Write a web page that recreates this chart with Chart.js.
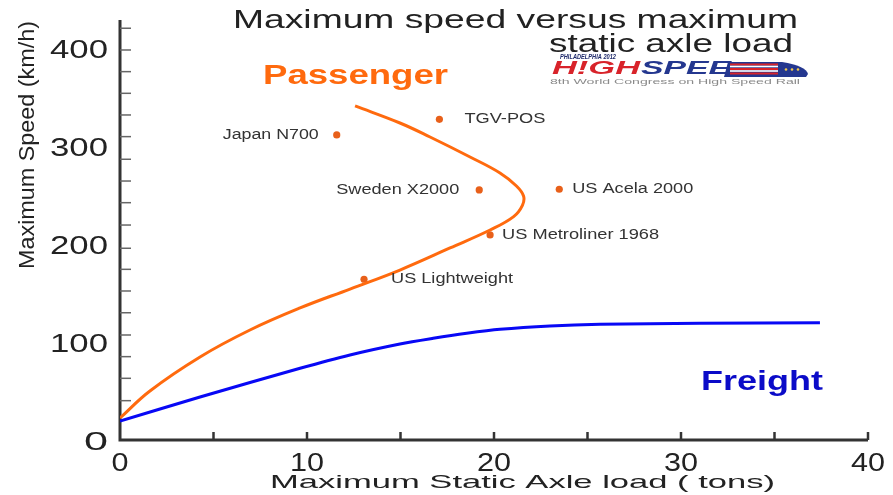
<!DOCTYPE html>
<html>
<head>
<meta charset="utf-8">
<script src="https://cdn.jsdelivr.net/npm/chart.js@4"></script>
<style>
html,body{margin:0;padding:0;background:#fff;}
#wrap{width:893px;height:495px;position:relative;}
</style>
</head>
<body>
<div id="wrap"><canvas id="c" width="893" height="495"></canvas></div>
<script>
// ---- data ----
const passengerLoad  = [0, 1.60, 4.28, 6.95, 9.63, 12.30, 14.97, 17.65, 19.79, 21.05, 21.52, 21.58, 21.20, 20.32, 18.72, 16.58, 14.97, 12.57];
const passengerSpeed = [25.5, 53.1, 87.8, 115.3, 137.8, 157.1, 176.5, 199.0, 217.3, 231.0, 242.5, 252.0, 262.2, 275.5, 291.8, 312.2, 326.5, 343.9];
const freightLoad  = [0, 4.28, 9.63, 12.30, 14.97, 16.75, 18.54, 20.32, 22.99, 25.67, 31.02, 37.43];
const freightSpeed = [22.4, 46.9, 76.2, 89.8, 101.0, 106.8, 111.9, 116.0, 119.4, 121.1, 122.1, 122.8];
const trainNames = ["TGV-POS", "Japan N700", "Sweden X2000", "US Acela 2000", "US Metroliner 1968", "US Lightweight"];
const trainLoad  = [17.08, 11.59, 19.21, 23.49, 19.79, 13.05];
const trainSpeed = [330.3, 314.3, 258.2, 258.9, 212.3, 167.1];
const xTickLabels = [0, 10, 20, 30, 40];
const xTickMarks  = [5, 10, 15, 20, 25, 30, 35, 40];
const yTickLabels = [0, 100, 200, 300, 400];
const yTickMarks  = [423.2, 401.0, 378.9, 356.8, 334.7, 312.6, 289.5, 267.3, 245.2, 222.4, 198.7, 177.2, 155.1, 132.9, 110.2, 88.1, 66.0, 43.2];

// ---- layout / style (not data) ----
const FONT = '"Liberation Sans", Arial, sans-serif';
const ORANGE = '#FF6A0E';
const DOT = '#E8601A';
const BLUE = '#0808F5';
// label placement relative to dots: [dx, align, width]
const trainLabelLayout = [
  [25, 'left', 81], [-18, 'right', 96], [-20, 'right', 123],
  [13, 'left', 121], [12, 'left', 157], [27, 'left', 122]
];

function sText(ctx, text, x, y, font, color, width, align) {
  ctx.save();
  ctx.font = font;
  const w = ctx.measureText(text).width;
  const sx = width ? width / w : 1;
  ctx.translate(x, y);
  ctx.scale(sx, 1);
  ctx.textAlign = align || 'left';
  ctx.textBaseline = 'middle';
  ctx.fillStyle = color;
  ctx.fillText(text, 0, 0);
  ctx.restore();
}

const decor = {
  id: 'decor',
  beforeDatasetsDraw(chart) {
    const ctx = chart.ctx;
    const xs = chart.scales.x, ys = chart.scales.y;
    const a = chart.chartArea;
    ctx.save();
    ctx.strokeStyle = '#333';
    ctx.lineWidth = 3;
    ctx.beginPath();
    ctx.moveTo(a.left, a.top);
    ctx.lineTo(a.left, a.bottom);
    ctx.lineTo(a.right, a.bottom);
    ctx.stroke();
    ctx.strokeStyle = '#666';
    ctx.lineWidth = 1.5;
    yTickMarks.forEach(v => {
      const py = ys.getPixelForValue(v);
      ctx.beginPath();
      ctx.moveTo(a.left, py);
      ctx.lineTo(a.left + 11, py);
      ctx.stroke();
    });
    ctx.strokeStyle = '#333';
    ctx.lineWidth = 2.5;
    xTickMarks.forEach(v => {
      const px = xs.getPixelForValue(v);
      ctx.beginPath();
      ctx.moveTo(px, a.bottom);
      ctx.lineTo(px, a.bottom - 8);
      ctx.stroke();
    });
    ctx.restore();
  },
  afterDatasetsDraw(chart) {
    const ctx = chart.ctx;
    const xs = chart.scales.x, ys = chart.scales.y;
    const a = chart.chartArea;
    yTickLabels.forEach(v => {
      const py = ys.getPixelForValue(v);
      sText(ctx, String(v), a.left - 12, py, '25px ' + FONT, '#222', String(v).length === 1 ? 24 : 58, 'right');
    });
    xTickLabels.forEach(v => {
      const px = xs.getPixelForValue(v);
      sText(ctx, String(v), px, 464, '25px ' + FONT, '#222', String(v).length === 1 ? 17 : 34, 'center');
    });
    sText(ctx, 'Maximum Static Axle load ( tons)', 270, 483, '19px ' + FONT, '#222', 505, 'left');
    ctx.save();
    ctx.translate(28, 145);
    ctx.rotate(-Math.PI / 2);
    sText(ctx, 'Maximum Speed (km/h)', 0, 0, '22px ' + FONT, '#222', 248, 'center');
    ctx.restore();
    sText(ctx, 'Maximum speed versus maximum', 233, 21, '25px ' + FONT, '#222', 565, 'left');
    sText(ctx, 'static axle load', 793, 45, '25px ' + FONT, '#222', 244, 'right');
    sText(ctx, 'Passenger', 263, 77, 'bold 27px ' + FONT, ORANGE, 185, 'left');
    sText(ctx, 'Freight', 701, 383, 'bold 27px ' + FONT, '#0B0BC8', 122, 'left');
    trainNames.forEach((name, i) => {
      const px = xs.getPixelForValue(trainLoad[i]);
      const py = ys.getPixelForValue(trainSpeed[i]);
      const L = trainLabelLayout[i];
      sText(ctx, name, px + L[0], py, '14px ' + FONT, '#333', L[2], L[1]);
    });
    // logo
    sText(ctx, 'PHILADELPHIA 2012', 560, 57, 'bold italic 7px ' + FONT, '#1F2A6B', 56, 'left');
    sText(ctx, 'H!GH', 552, 69, 'bold italic 19px ' + FONT, '#D8232A', 88, 'left');
    sText(ctx, 'SPEE', 641, 69, 'bold italic 19px ' + FONT, '#24378F', 90, 'left');
    ctx.save();
    ctx.fillStyle = '#24378F';
    ctx.beginPath();
    ctx.moveTo(728, 62);
    ctx.lineTo(782, 62);
    ctx.quadraticCurveTo(806, 66, 808, 74);
    ctx.lineTo(806, 77);
    ctx.lineTo(724, 77);
    ctx.closePath();
    ctx.fill();
    ctx.fillStyle = '#D8232A';
    [63.5, 68, 72.5].forEach(y => { ctx.fillRect(730, y, 48, 2); });
    ctx.fillStyle = '#fff';
    [65.7, 70.2].forEach(y => { ctx.fillRect(730, y, 48, 1.6); });
    ctx.fillStyle = '#F2C94C';
    [786, 792, 798].forEach(x => { ctx.beginPath(); ctx.arc(x, 69.5, 1.3, 0, Math.PI * 2); ctx.fill(); });
    ctx.restore();
    sText(ctx, '8th World Congress on High Speed Rail', 550, 82, '8px ' + FONT, '#8A8A8A', 250, 'left');
  }
};

new Chart(document.getElementById('c'), {
  type: 'scatter',
  data: {
    datasets: [
      {
        label: 'Passenger',
        data: passengerLoad.map((x, i) => ({ x, y: passengerSpeed[i] })),
        showLine: true, borderColor: ORANGE, borderWidth: 3, pointRadius: 0,
        tension: 0.4, fill: false
      },
      {
        label: 'Freight',
        data: freightLoad.map((x, i) => ({ x, y: freightSpeed[i] })),
        showLine: true, borderColor: BLUE, borderWidth: 3, pointRadius: 0,
        tension: 0.3, fill: false
      },
      {
        label: 'Trains',
        data: trainLoad.map((x, i) => ({ x, y: trainSpeed[i] })),
        showLine: false, pointRadius: 3.6, pointBackgroundColor: DOT,
        pointBorderWidth: 0, borderColor: DOT
      }
    ]
  },
  options: {
    responsive: false,
    animation: false,
    layout: { padding: { left: 120, right: 25, top: 20, bottom: 55 } },
    plugins: { legend: { display: false }, tooltip: { enabled: false }, title: { display: false } },
    scales: {
      x: { type: 'linear', min: 0, max: 40, display: false },
      y: { type: 'linear', min: 3.06, max: 431.6, display: false }
    }
  },
  plugins: [decor]
});
</script>
</body>
</html>
